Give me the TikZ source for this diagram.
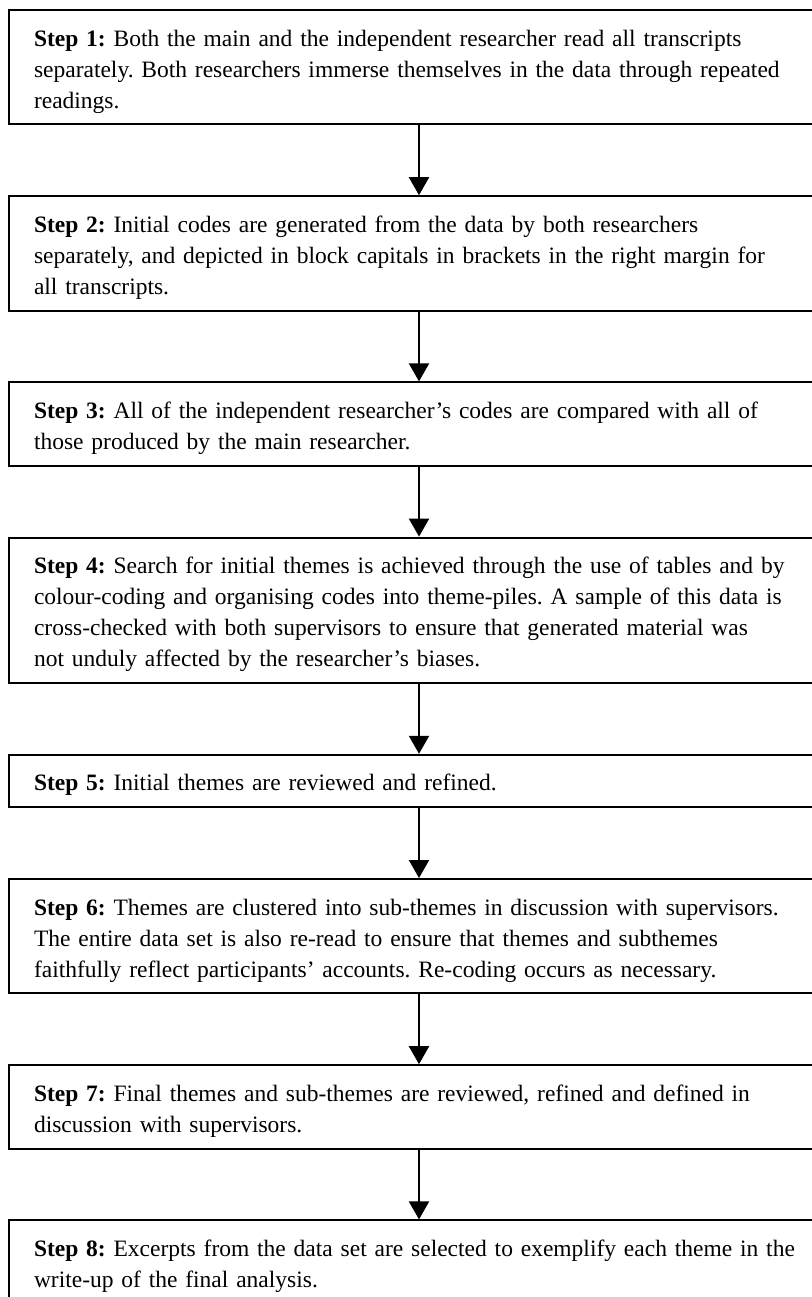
\documentclass[tikz,border=0pt]{standalone}
\usepackage{fontspec}
\setmainfont{Liberation Serif}
\usetikzlibrary{positioning,arrows.meta}
\tikzset{
  stepbox/.style={draw,line width=1pt,rectangle,text width=385pt,inner xsep=12.5pt,inner ysep=4pt,align=left,
    font=\fontsize{11.75pt}{15.5pt}\selectfont\frenchspacing,
    execute at begin node={\rule{0pt}{14pt}},
    execute at end node={\rule[-4.2pt]{0pt}{0pt}}},
  flow/.style={line width=1pt,-{Triangle[width=10pt,length=9pt]}}
}
\begin{document}
\begin{tikzpicture}
  \useasboundingbox (0,0) rectangle (405.5pt,-648.5pt);
  \node[stepbox,anchor=north west] (s1) at (4pt,-4.5pt) {\textbf{Step 1:} Both the main and the independent researcher read all transcripts\\separately. Both researchers immerse themselves in the data through repeated\\readings.};
  \node[stepbox,below=34.9pt of s1] (s2) {\textbf{Step 2:} Initial codes are generated from the data by both researchers\\separately, and depicted in block capitals in brackets in the right margin for\\all transcripts.};
  \node[stepbox,below=34.9pt of s2] (s3) {\textbf{Step 3:} All of the independent researcher’s codes are compared with all of\\those produced by the main researcher.};
  \node[stepbox,below=34.9pt of s3] (s4) {\textbf{Step 4:} Search for initial themes is achieved through the use of tables and by\\colour-coding and organising codes into theme-piles. A sample of this data is\\cross-checked with both supervisors to ensure that generated material was\\not unduly affected by the researcher’s biases.};
  \node[stepbox,below=34.9pt of s4] (s5) {\textbf{Step 5:} Initial themes are reviewed and refined.};
  \node[stepbox,below=34.9pt of s5] (s6) {\textbf{Step 6:} Themes are clustered into sub-themes in discussion with supervisors.\\The entire data set is also re-read to ensure that themes and subthemes\\faithfully reflect participants’ accounts. Re-coding occurs as necessary.};
  \node[stepbox,below=34.9pt of s6] (s7) {\textbf{Step 7:} Final themes and sub-themes are reviewed, refined and defined in\\discussion with supervisors.};
  \node[stepbox,below=34.9pt of s7] (s8) {\textbf{Step 8:} Excerpts from the data set are selected to exemplify each theme in the\\write-up of the final analysis.};
  \foreach \a/\b in {s1/s2,s2/s3,s3/s4,s4/s5,s5/s6,s6/s7,s7/s8} {
    \draw[flow] (\a.south) -- (\b.north);
  }
\end{tikzpicture}
\end{document}
